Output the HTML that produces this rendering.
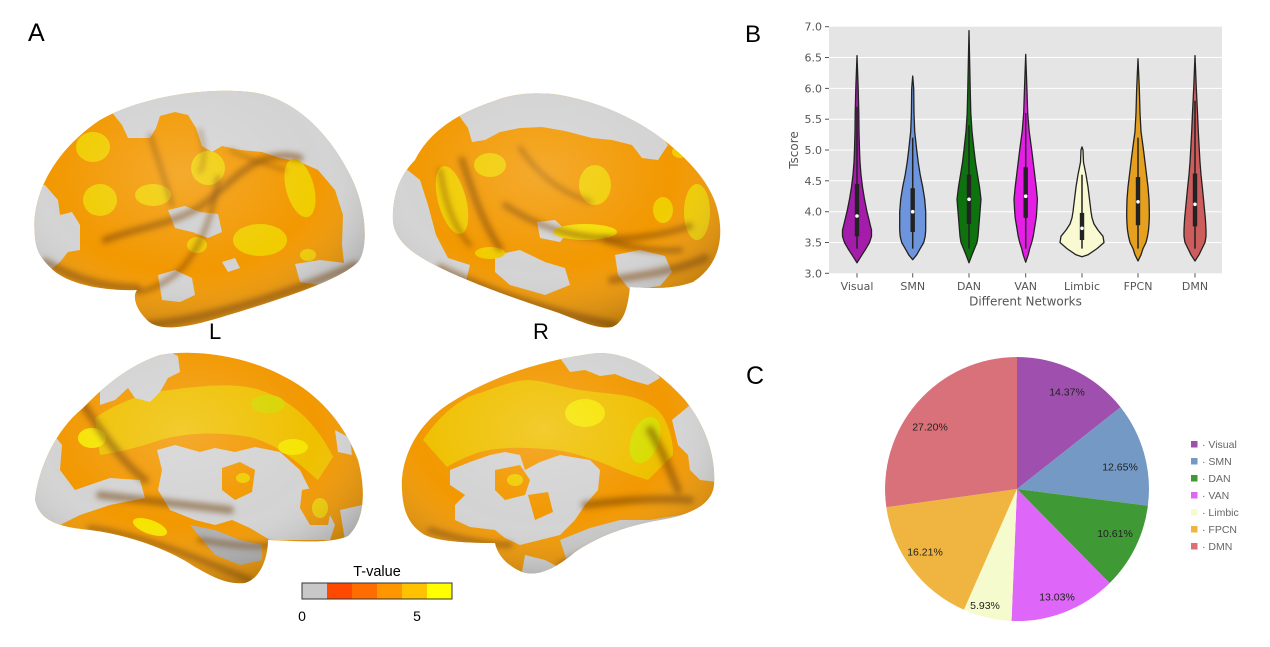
<!DOCTYPE html>
<html><head><meta charset="utf-8"><style>
html,body{margin:0;padding:0;background:#fff;}
svg{display:block;}
</style></head><body>
<svg width="1270" height="647" viewBox="0 0 1270 647" xmlns="http://www.w3.org/2000/svg" font-family="'Liberation Sans', Arial, sans-serif">
<defs>
<filter id="bl" x="-20%" y="-20%" width="140%" height="140%"><feGaussianBlur stdDeviation="3"/></filter>
<radialGradient id="sh" cx="0.45" cy="0.35" r="0.7">
<stop offset="0" stop-color="#fff" stop-opacity="0.18"/>
<stop offset="0.55" stop-color="#fff" stop-opacity="0"/>
<stop offset="1" stop-color="#000" stop-opacity="0.32"/>
</radialGradient>
<clipPath id="c1"><path d="M35,237 C30,195 55,150 100,120 C140,97 205,87 250,92 C295,97 330,135 350,175 C368,210 368,250 358,262 C340,280 285,298 225,316 C190,327 160,333 147,320 C136,309 132,297 137,290 C105,291 70,285 53,270 C40,258 36,250 35,237 Z"/></clipPath>
<clipPath id="c2"><path d="M393,222 C392,195 400,175 415,160 C430,130 460,112 497,100 C515,93 540,92 560,95 C600,102 640,120 670,145 C700,170 718,195 720,225 C722,250 712,270 693,282 C670,290 650,288 630,287 C628,305 625,322 612,327 C595,330 575,318 550,310 C510,297 470,282 445,270 C420,258 396,245 393,222 Z"/></clipPath>
<clipPath id="c3"><path d="M35,500 C38,470 55,430 83,408 C105,385 130,365 160,355 C200,348 250,358 285,377 C320,395 345,425 358,460 C366,490 365,520 348,536 C330,544 300,541 268,540 C268,555 262,578 245,583 C225,585 210,575 195,567 C170,550 130,535 90,530 C60,527 40,522 35,500 Z"/></clipPath>
<clipPath id="c4"><path d="M402,490 C400,455 420,420 455,400 C490,378 540,360 597,353 C630,352 660,372 685,400 C705,425 716,455 714,485 C712,505 690,515 660,520 C630,525 600,535 575,552 C560,565 540,578 522,572 C505,565 497,553 495,543 C470,543 440,542 425,535 C408,525 403,510 402,490 Z"/></clipPath>
</defs>

<rect width="1270" height="647" fill="#fff"/>

<!-- Brain 1: L lateral -->
<g clip-path="url(#c1)">
<rect x="25" y="85" width="350" height="255" fill="#f29800"/>
<path fill="#d3d3d3" d="M110,110 L150,98 L190,90 L250,88 L295,98 L325,122 L348,158 L362,195 L368,230 L368,270 L345,272 L342,245 L343,215 L335,190 L318,170 L300,162 L280,158 L262,152 L240,150 L222,146 L212,152 L202,146 L196,128 L188,115 L175,112 L160,116 L156,128 L150,138 L128,138 L122,125 Z"/>
<path fill="#d3d3d3" d="M28,185 L45,185 L58,200 L60,215 L72,212 L80,225 L80,250 L68,252 L60,262 L48,272 L28,272 Z"/>
<path fill="#cfcfcf" d="M168,210 L185,206 L200,212 L218,214 L222,232 L208,238 L192,232 L175,228 Z"/>
<path fill="#d3d3d3" d="M158,275 L175,270 L192,278 L195,295 L180,302 L162,300 Z"/>
<path fill="#d3d3d3" d="M222,262 L235,258 L240,268 L228,272 Z"/>
<path fill="#d3d3d3" d="M295,264 L320,260 L345,263 L350,272 L320,285 L300,282 Z"/>
<g fill="#f0cc00">
<ellipse cx="93" cy="147" rx="17" ry="15"/>
<ellipse cx="100" cy="200" rx="17" ry="16"/>
<ellipse cx="153" cy="195" rx="18" ry="11"/>
<ellipse cx="208" cy="168" rx="17" ry="17"/>
<ellipse cx="300" cy="188" rx="14" ry="30" transform="rotate(-15 300 188)"/>
<ellipse cx="260" cy="240" rx="27" ry="16"/>
<ellipse cx="197" cy="245" rx="10" ry="8"/>
<ellipse cx="308" cy="255" rx="8" ry="6"/>
</g>
<g fill="none" stroke="#7a4000" stroke-opacity="0.55" filter="url(#bl)" stroke-linecap="round">
<path d="M105,240 C135,228 170,225 198,208 C222,192 238,170 262,160 C278,154 290,155 300,158" stroke-width="7"/>
<path d="M218,178 C214,212 202,245 182,268 C168,282 152,290 138,292" stroke-width="5"/>
<path d="M150,135 C158,160 168,188 172,205" stroke-width="4"/>
<path d="M200,130 C204,148 206,160 200,172" stroke-width="3"/>
<path d="M45,262 C80,282 110,288 137,288" stroke-width="8"/>
<path d="M147,325 C200,320 280,298 355,265" stroke-width="8"/>
<path d="M230,150 C250,160 270,165 285,170" stroke-width="3"/>
</g>
<rect x="25" y="85" width="350" height="255" fill="url(#sh)"/>
</g>

<!-- Brain 2: R lateral -->
<g clip-path="url(#c2)">
<rect x="385" y="85" width="345" height="250" fill="#f29800"/>
<path fill="#d3d3d3" d="M455,110 L480,98 L510,91 L560,90 L610,103 L655,128 L668,145 L658,160 L642,158 L632,145 L612,140 L592,138 L565,131 L542,127 L520,128 L500,132 L485,140 L472,142 L468,128 Z"/>
<path fill="#d3d3d3" d="M388,175 L405,168 L420,180 L428,205 L436,235 L448,258 L470,265 L465,285 L430,275 L388,250 Z"/>
<path fill="#d3d3d3" d="M495,255 L520,250 L545,262 L565,268 L570,285 L545,295 L510,285 L495,272 Z"/>
<path fill="#d3d3d3" d="M537,222 L555,220 L568,232 L560,242 L540,238 Z"/>
<path fill="#d3d3d3" d="M615,255 L640,250 L665,256 L672,272 L660,286 L630,290 L618,275 Z"/>
<g fill="#f0cc00">
<ellipse cx="452" cy="200" rx="14" ry="35" transform="rotate(-15 452 200)"/>
<ellipse cx="490" cy="165" rx="16" ry="12"/>
<ellipse cx="595" cy="185" rx="16" ry="20"/>
<ellipse cx="585" cy="232" rx="32" ry="8" fill="#f4dc00"/>
<ellipse cx="663" cy="210" rx="10" ry="13"/>
<ellipse cx="697" cy="212" rx="13" ry="28"/>
<ellipse cx="490" cy="253" rx="15" ry="6"/>
<ellipse cx="680" cy="152" rx="8" ry="6"/>
</g>
<g fill="none" stroke="#7a4000" stroke-opacity="0.55" filter="url(#bl)" stroke-linecap="round">
<path d="M462,160 C472,190 482,222 500,248" stroke-width="7"/>
<path d="M505,205 C530,222 560,235 600,238 C630,240 660,236 690,226" stroke-width="6"/>
<path d="M440,170 C445,200 452,225 470,245" stroke-width="4"/>
<path d="M520,148 C535,170 555,190 590,202" stroke-width="4"/>
<path d="M612,280 C640,276 680,270 705,258" stroke-width="8"/>
<path d="M605,240 C630,248 655,252 680,250" stroke-width="6"/>
<path d="M440,268 C490,292 560,315 615,325" stroke-width="8"/>
</g>
<rect x="385" y="85" width="345" height="250" fill="url(#sh)"/>
</g>

<!-- Brain 3: L medial -->
<g clip-path="url(#c3)">
<rect x="25" y="345" width="350" height="245" fill="#f29800"/>
<path fill="#efc000" d="M95,418 C120,400 150,392 170,390 C200,386 235,382 260,390 C290,400 315,420 333,457 L318,480 C300,465 280,445 250,437 C220,432 190,432 160,440 C140,447 120,452 100,455 Z"/>
<path fill="#d3d3d3" d="M100,380 L130,362 L165,350 L178,356 L180,372 L168,378 L160,392 L150,402 L135,398 L128,388 L115,400 L100,405 Z"/>
<path fill="#d3d3d3" d="M30,440 L50,430 L62,445 L60,470 L75,490 L110,478 L140,480 L145,498 L110,505 L80,515 L60,525 L30,525 Z"/>
<path fill="#d3d3d3" d="M157,450 L175,445 L200,452 L215,448 L235,452 L255,447 L280,452 L300,470 L310,490 L325,505 L335,525 L330,540 L300,540 L270,540 L250,528 L232,520 L215,525 L195,520 L170,510 L158,490 L162,470 Z"/>
<path fill="#f29800" d="M222,468 L240,462 L255,470 L252,492 L235,500 L222,490 Z"/>
<path fill="#f29800" d="M302,490 L318,487 L332,505 L328,525 L310,525 L300,508 Z"/>
<path fill="#d3d3d3" d="M335,430 L350,438 L352,455 L338,452 Z"/>
<path fill="#d3d3d3" d="M340,510 L362,505 L362,540 L345,540 Z"/>
<path fill="#b0b0b0" d="M190,525 L215,530 L240,540 L262,545 L262,560 L240,565 L215,555 Z"/>
<g fill="#f6e400">
<ellipse cx="92" cy="438" rx="14" ry="10"/>
<ellipse cx="150" cy="527" rx="18" ry="7" transform="rotate(20 150 527)"/>
<ellipse cx="268" cy="404" rx="17" ry="9" fill="#d8d400"/>
<ellipse cx="293" cy="447" rx="15" ry="8"/>
<ellipse cx="320" cy="508" rx="8" ry="10" fill="#f0cc00"/>
<ellipse cx="243" cy="478" rx="7" ry="5" fill="#f0cc00"/>
</g>
<g fill="none" stroke="#6a3a00" stroke-opacity="0.5" filter="url(#bl)" stroke-linecap="round">
<path d="M80,400 C100,430 120,460 145,480" stroke-width="8"/>
<path d="M100,495 C140,500 190,505 230,510" stroke-width="8"/>
<path d="M90,528 C140,535 190,555 250,580" stroke-width="6"/>
<path d="M200,540 C230,545 255,548 270,545" stroke-width="6"/>
</g>
<rect x="25" y="345" width="350" height="245" fill="url(#sh)"/>
</g>

<!-- Brain 4: R medial -->
<g clip-path="url(#c4)">
<rect x="395" y="345" width="330" height="240" fill="#f29800"/>
<path fill="#efc000" d="M423,440 C440,415 460,398 480,393 C500,386 515,380 530,380 C550,382 565,388 580,390 C600,393 620,394 632,397 C650,402 660,410 665,420 C672,435 673,445 673,455 L648,480 C630,475 615,468 600,462 C580,455 565,450 545,449 C520,447 500,447 480,452 C465,457 455,462 447,467 Z"/>
<path fill="#d3d3d3" d="M560,358 L590,352 L620,352 L650,365 L660,378 L648,385 L630,380 L615,374 L600,376 L585,370 L570,372 Z"/>
<path fill="#d3d3d3" d="M672,420 L690,405 L705,420 L718,445 L718,482 L700,480 L690,470 L688,455 L678,445 Z"/>
<path fill="#d3d3d3" d="M450,470 L470,462 L490,455 L505,452 L520,455 L525,470 L540,462 L560,455 L590,460 L600,470 L598,490 L585,505 L575,520 L560,535 L540,540 L520,545 L505,538 L495,530 L470,527 L455,520 L455,505 L465,495 L450,485 Z"/>
<path fill="#f29800" d="M495,470 L520,465 L530,480 L525,495 L505,500 L495,490 Z"/>
<path fill="#f29800" d="M528,495 L548,492 L553,512 L535,520 Z"/>
<path fill="#c8c8c8" d="M560,540 L590,528 L620,520 L650,520 L680,515 L700,510 L690,525 L650,535 L620,545 L590,560 L570,570 Z"/>
<path fill="#d3d3d3" d="M525,555 L545,560 L560,568 L540,578 L522,572 Z"/>
<g fill="#f6e400">
<ellipse cx="585" cy="413" rx="20" ry="14"/>
<ellipse cx="645" cy="440" rx="14" ry="24" transform="rotate(20 645 440)" fill="#d8dc00"/>
<ellipse cx="515" cy="480" rx="8" ry="6" fill="#f0cc00"/>
</g>
<g fill="none" stroke="#6a3a00" stroke-opacity="0.5" filter="url(#bl)" stroke-linecap="round">
<path d="M650,430 C662,450 670,470 678,490" stroke-width="8"/>
<path d="M585,505 C620,500 660,498 690,500" stroke-width="8"/>
<path d="M430,530 C460,540 490,545 510,545" stroke-width="6"/>
<path d="M560,565 C600,545 640,530 690,520" stroke-width="6"/>
</g>
<rect x="395" y="345" width="330" height="240" fill="url(#sh)"/>
</g>

<!-- Labels A, L, R -->
<text x="28" y="41" font-size="25" fill="#000">A</text>
<text x="209" y="339" font-size="22" fill="#000">L</text>
<text x="533" y="339" font-size="22" fill="#000">R</text>

<!-- Colorbar -->
<text x="377" y="576" font-size="14.5" text-anchor="middle" fill="#000">T-value</text>
<rect x="302" y="583" width="25" height="16" fill="#c8c8c8"/>
<rect x="327" y="583" width="25" height="16" fill="#ff4800"/>
<rect x="352" y="583" width="25" height="16" fill="#ff6c00"/>
<rect x="377" y="583" width="25" height="16" fill="#ff9600"/>
<rect x="402" y="583" width="25" height="16" fill="#ffc200"/>
<rect x="427" y="583" width="25" height="16" fill="#ffff00"/>
<rect x="302" y="583" width="150" height="16" fill="none" stroke="#333" stroke-width="1"/>
<text x="302" y="621" font-size="14" text-anchor="middle" fill="#000">0</text>
<text x="417" y="621" font-size="14" text-anchor="middle" fill="#000">5</text>

<!-- Panel B -->
<text x="745" y="42" font-size="24" fill="#000">B</text>
<rect x="829" y="26.7" width="393" height="246.6" fill="#e5e5e5"/>
<g stroke="#fff" stroke-width="1">
<line x1="829" x2="1222" y1="57.5" y2="57.5"/>
<line x1="829" x2="1222" y1="88.4" y2="88.4"/>
<line x1="829" x2="1222" y1="119.2" y2="119.2"/>
<line x1="829" x2="1222" y1="150" y2="150"/>
<line x1="829" x2="1222" y1="180.8" y2="180.8"/>
<line x1="829" x2="1222" y1="211.7" y2="211.7"/>
<line x1="829" x2="1222" y1="242.5" y2="242.5"/>
</g>
<g stroke="#555" stroke-width="1">
<line x1="825" x2="829" y1="26.7" y2="26.7"/>
<line x1="825" x2="829" y1="57.5" y2="57.5"/>
<line x1="825" x2="829" y1="88.4" y2="88.4"/>
<line x1="825" x2="829" y1="119.2" y2="119.2"/>
<line x1="825" x2="829" y1="150" y2="150"/>
<line x1="825" x2="829" y1="180.8" y2="180.8"/>
<line x1="825" x2="829" y1="211.7" y2="211.7"/>
<line x1="825" x2="829" y1="242.5" y2="242.5"/>
<line x1="825" x2="829" y1="273.3" y2="273.3"/>
<line x1="857" x2="857" y1="273.3" y2="277.5"/>
<line x1="912.7" x2="912.7" y1="273.3" y2="277.5"/>
<line x1="969" x2="969" y1="273.3" y2="277.5"/>
<line x1="1025.7" x2="1025.7" y1="273.3" y2="277.5"/>
<line x1="1082" x2="1082" y1="273.3" y2="277.5"/>
<line x1="1138" x2="1138" y1="273.3" y2="277.5"/>
<line x1="1195" x2="1195" y1="273.3" y2="277.5"/>
</g>
<g font-family="'DejaVu Sans', sans-serif" font-size="11" fill="#555" text-anchor="end">
<text x="822" y="30.7">7.0</text>
<text x="822" y="61.5">6.5</text>
<text x="822" y="92.4">6.0</text>
<text x="822" y="123.2">5.5</text>
<text x="822" y="154">5.0</text>
<text x="822" y="184.8">4.5</text>
<text x="822" y="215.7">4.0</text>
<text x="822" y="246.5">3.5</text>
<text x="822" y="277.3">3.0</text>
</g>
<g font-family="'DejaVu Sans', sans-serif" font-size="11" fill="#555" text-anchor="middle">
<text x="857" y="290">Visual</text>
<text x="912.7" y="290">SMN</text>
<text x="969" y="290">DAN</text>
<text x="1025.7" y="290">VAN</text>
<text x="1082" y="290">Limbic</text>
<text x="1138" y="290">FPCN</text>
<text x="1195" y="290">DMN</text>
<text x="1025.5" y="305.5" font-size="12">Different Networks</text>
<text x="798" y="150" font-size="12" transform="rotate(-90 798 150)">Tscore</text>
</g>
<g stroke="#222" stroke-width="1.3" stroke-linejoin="round">
<polygon fill="#a31caa" points="857,262.8 862,254.8 866,248.6 869.5,242.5 871.5,236.3 871.5,230.1 870,224 868.5,217.8 867,211.7 864.5,199.3 862.5,187 861,174.7 860,162.3 859.5,150 859,131.5 858.8,113 858.2,88.4 857,55.7 855.8,88.4 855.2,113 855,131.5 854.5,150 854,162.3 853,174.7 851.5,187 849.5,199.3 847,211.7 845.5,217.8 844,224 842.5,230.1 842.5,236.3 844.5,242.5 848,248.6 852,254.8"/>
<polygon fill="#6d95dd" points="912.7,259.7 916.7,254.8 920.2,248.6 923.7,242.5 925.2,236.3 925.7,230.1 925.7,224 925.7,217.8 925.7,211.7 924.7,199.3 922.7,187 920.2,174.7 918.2,162.3 916.7,150 914.7,131.5 914,113 913.7,88.4 912.7,76 911.7,88.4 911.4,113 910.7,131.5 908.7,150 907.2,162.3 905.2,174.7 902.7,187 900.7,199.3 899.7,211.7 899.7,217.8 899.7,224 899.7,230.1 900.2,236.3 901.7,242.5 905.2,248.6 908.7,254.8"/>
<polygon fill="#0e730e" points="969,262.8 972,254.8 974.5,248.6 977,242.5 978,236.3 978.5,230.1 979,224 979.5,217.8 980,211.7 981,199.3 979.5,187 977.5,174.7 975.5,162.3 974,150 972,131.5 970.8,113 970.2,88.4 969,30.6 967.8,88.4 967.2,113 966,131.5 964,150 962.5,162.3 960.5,174.7 958.5,187 957,199.3 958,211.7 958.5,217.8 959,224 959.5,230.1 960,236.3 961,242.5 963.5,248.6 966,254.8"/>
<polygon fill="#e51ee6" points="1025.7,262.2 1028.2,254.8 1029.7,248.6 1031.7,242.5 1033.2,236.3 1034.2,230.1 1035.2,224 1036.2,217.8 1036.7,211.7 1037.4,199.3 1036.2,187 1034.7,174.7 1033.2,162.3 1031.7,150 1029.2,131.5 1027.7,113 1026.9,88.4 1025.7,54.4 1024.5,88.4 1023.7,113 1022.2,131.5 1019.7,150 1018.2,162.3 1016.7,174.7 1015.2,187 1014,199.3 1014.7,211.7 1015.2,217.8 1016.2,224 1017.2,230.1 1018.2,236.3 1019.7,242.5 1021.7,248.6 1023.2,254.8"/>
<polygon fill="#fafad2" points="1082,256.7 1088,254.8 1097,248.6 1104,242.5 1103,236.3 1098,230.1 1094,224 1092,217.8 1091,211.7 1089.5,199.3 1088,187 1086,174.7 1083.5,162.3 1083,150 1082,146.9 1081,150 1080.5,162.3 1078,174.7 1076,187 1074.5,199.3 1073,211.7 1072,217.8 1070,224 1066,230.1 1061,236.3 1060,242.5 1067,248.6 1076,254.8"/>
<polygon fill="#e6a020" points="1138,261 1141,254.8 1143,248.6 1146,242.5 1147.5,236.3 1148.5,230.1 1149,224 1149.3,217.8 1149.3,211.7 1149,199.3 1148,187 1146.5,174.7 1145,162.3 1143.5,150 1141,131.5 1140,113 1139.3,88.4 1138,58.8 1136.7,88.4 1136,113 1135,131.5 1132.5,150 1131,162.3 1129.5,174.7 1128,187 1127,199.3 1126.7,211.7 1126.7,217.8 1127,224 1127.5,230.1 1128.5,236.3 1130,242.5 1133,248.6 1135,254.8"/>
<polygon fill="#cd5c5c" points="1195,261 1199,254.8 1202,248.6 1205,242.5 1206,236.3 1206,230.1 1205.7,224 1205.3,217.8 1204.7,211.7 1203.5,199.3 1202.3,187 1201,174.7 1200,162.3 1199.3,150 1198.3,131.5 1197.5,113 1196.3,88.4 1195,55.7 1193.7,88.4 1192.5,113 1191.7,131.5 1190.7,150 1190,162.3 1189,174.7 1187.7,187 1186.5,199.3 1185.3,211.7 1184.7,217.8 1184.3,224 1184,230.1 1184,236.3 1185,242.5 1188,248.6 1191,254.8"/>
</g>
<g stroke="#222" stroke-width="1.5">
<line x1="857" x2="857" y1="248.6" y2="106.8"/>
<line x1="912.7" x2="912.7" y1="248.6" y2="137.7"/>
<line x1="969" x2="969" y1="248.6" y2="125.3"/>
<line x1="1025.7" x2="1025.7" y1="248.6" y2="113"/>
<line x1="1082" x2="1082" y1="248.6" y2="174.7"/>
<line x1="1138" x2="1138" y1="248.6" y2="137.7"/>
<line x1="1195" x2="1195" y1="248.6" y2="100.7"/>
</g>
<g fill="#222">
<rect x="854.8" y="183.9" width="4.4" height="52.4"/>
<rect x="910.5" y="188.2" width="4.4" height="43.8"/>
<rect x="966.8" y="174.7" width="4.4" height="49.3"/>
<rect x="1023.5" y="167.3" width="4.4" height="50.5"/>
<rect x="1079.8" y="212.9" width="4.4" height="27.1"/>
<rect x="1135.8" y="177.1" width="4.4" height="48.1"/>
<rect x="1192.8" y="173.5" width="4.4" height="52.9"/>
</g>
<g fill="#fff">
<circle cx="857" cy="216" r="1.8"/>
<circle cx="912.7" cy="211.7" r="1.8"/>
<circle cx="969" cy="199.3" r="1.8"/>
<circle cx="1025.7" cy="196.2" r="1.8"/>
<circle cx="1082" cy="228.3" r="1.8"/>
<circle cx="1138" cy="201.8" r="1.8"/>
<circle cx="1195" cy="204.3" r="1.8"/>
</g>

<!-- Panel C -->
<text x="746" y="384" font-size="25" fill="#000">C</text>
<path fill="#9f4fae" d="M1017,489 L1017,357 A132,132 0 0 1 1120.6,407.2 Z"/>
<path fill="#7399c4" d="M1017,489 L1120.6,407.2 A132,132 0 0 1 1147.9,505.7 Z"/>
<path fill="#3f9a35" d="M1017,489 L1147.9,505.7 A132,132 0 0 1 1109.6,583.1 Z"/>
<path fill="#de66f8" d="M1017,489 L1109.6,583.1 A132,132 0 0 1 1011.5,620.9 Z"/>
<path fill="#f5fbcc" d="M1017,489 L1011.5,620.9 A132,132 0 0 1 963.9,609.8 Z"/>
<path fill="#f0b541" d="M1017,489 L963.9,609.8 A132,132 0 0 1 886.3,507.2 Z"/>
<path fill="#d9717a" d="M1017,489 L886.3,507.2 A132,132 0 0 1 1017,357 Z"/>
<g font-size="10.5" fill="#222" text-anchor="middle">
<text x="1067" y="395.5">14.37%</text>
<text x="1120" y="470.5">12.65%</text>
<text x="1115" y="537">10.61%</text>
<text x="1057" y="600.5">13.03%</text>
<text x="985" y="609">5.93%</text>
<text x="925" y="555.5">16.21%</text>
<text x="930" y="430.5">27.20%</text>
</g>
<rect x="1191" y="441" width="6.5" height="6.5" fill="#9f4fae"/>
<rect x="1191" y="458" width="6.5" height="6.5" fill="#7399c4"/>
<rect x="1191" y="475" width="6.5" height="6.5" fill="#3f9a35"/>
<rect x="1191" y="492" width="6.5" height="6.5" fill="#de66f8"/>
<rect x="1191" y="509" width="6.5" height="6.5" fill="#f5fbcc"/>
<rect x="1191" y="526" width="6.5" height="6.5" fill="#f0b541"/>
<rect x="1191" y="543" width="6.5" height="6.5" fill="#d9717a"/>
<g font-size="10.5" fill="#666">
<text x="1202" y="448">· Visual</text>
<text x="1202" y="465">· SMN</text>
<text x="1202" y="482">· DAN</text>
<text x="1202" y="499">· VAN</text>
<text x="1202" y="516">· Limbic</text>
<text x="1202" y="533">· FPCN</text>
<text x="1202" y="550">· DMN</text>
</g>
</svg>
</body></html>
